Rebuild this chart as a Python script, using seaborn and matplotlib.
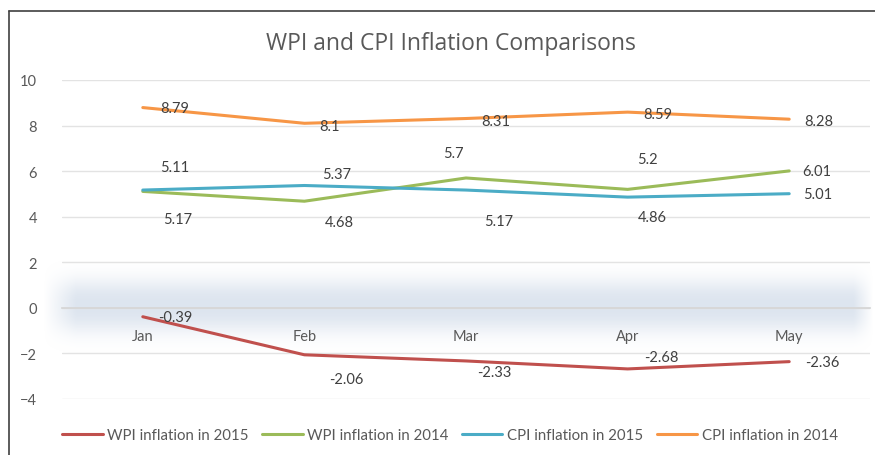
import numpy as np
import pandas as pd
import matplotlib.pyplot as plt
from matplotlib.lines import Line2D
import seaborn as sns

# Data
months = ['Jan', 'Feb', 'Mar', 'Apr', 'May']
wpi_2015 = [-0.39, -2.06, -2.33, -2.68, -2.36]
wpi_2014 = [5.11, 4.68, 5.7, 5.2, 6.01]
cpi_2015 = [5.17, 5.37, 5.17, 4.86, 5.01]
cpi_2014 = [8.79, 8.1, 8.31, 8.59, 8.28]
series_names = ['WPI inflation in 2015', 'WPI inflation in 2014',
                'CPI inflation in 2015', 'CPI inflation in 2014']
colors = ['#c0504d', '#9bbb59', '#4bacc6', '#f79646']

# label offsets in pixels (dx, dy) relative to each point, to mimic the original placement
label_offsets = [
    [(32, 0), (42, -24), (28, -11), (34, 12), (33, 0)],
    [(32, 24), (35, -21), (-13, 25), (20, 30), (28, 0)],
    [(35, -29), (32, 11), (33, -31), (25, -20), (28, 0)],
    [(32, 0), (25, -3), (30, -2), (30, -2), (30, -2)],
]

all_values = [wpi_2015, wpi_2014, cpi_2015, cpi_2014]
df = pd.DataFrame({
    'month': months * 4,
    'value': wpi_2015 + wpi_2014 + cpi_2015 + cpi_2014,
    'series': np.repeat(series_names, len(months)),
})

sns.set_theme(style='white')
plt.rcParams['font.family'] = ['Lato', 'DejaVu Sans']

fig = plt.figure(figsize=(8.75, 4.56), dpi=100)
ax = fig.add_axes([62 / 875, 1 - 400 / 456, 808 / 875, 319 / 456])

# soft bluish glow band around the zero line
gy = np.linspace(-2.0, 2.0, 160)[:, None]
gx = np.linspace(-0.62, 4.52, 500)[None, :]
fade_x = np.clip((gx + 0.62) / 0.2, 0, 1) * np.clip((4.52 - gx) / 0.12, 0, 1)
glow = np.zeros((160, 500, 4))
glow[..., :3] = np.array([0.70, 0.77, 0.86])
glow[..., 3] = 0.44 * np.exp(-np.abs((gy + 0.05) / 1.15) ** 2.6) * fade_x
ax.imshow(glow, extent=(-0.62, 4.52, -2.0, 2.0), aspect='auto', zorder=0,
          interpolation='bilinear', clip_on=False)

sns.lineplot(data=df, x='month', y='value', hue='series', palette=colors,
             sort=False, linewidth=2.2, ax=ax, legend=False, zorder=3)

# data labels
for vals, offs in zip(all_values, label_offsets):
    for i, (v, (dx, dy)) in enumerate(zip(vals, offs)):
        ax.annotate(f'{v:g}', (i, v), xytext=(dx, dy), textcoords='offset pixels',
                    ha='center', va='center', fontsize=10.5, color='#404040', zorder=4)

ax.set_xlim(-0.5, 4.5)
ax.set_ylim(-4, 10)
ax.set_yticks(np.arange(-4, 11, 2))
ax.yaxis.grid(True, color='#e3e3e3', linewidth=1)
ax.set_axisbelow(True)
for s in ['top', 'right', 'left']:
    ax.spines[s].set_visible(False)
ax.spines['bottom'].set_position(('data', 0))
ax.spines['bottom'].set_color('#d6d6d6')
ax.spines['bottom'].set_zorder(1)
ax.tick_params(axis='x', length=0, pad=15, labelsize=10.5, labelcolor='#595959')
ax.tick_params(axis='y', length=0, pad=18, labelsize=10.5, labelcolor='#595959')
ax.set_xlabel('')
ax.set_ylabel('')

fig.text(0.515, 1 - 44 / 456, 'WPI and CPI Inflation Comparisons', ha='center', va='center',
         fontsize=16.5, color='#595959', family=['Open Sans', 'DejaVu Sans'])

handles = [Line2D([0], [0], color=c, lw=2.2) for c in colors]
fig.legend(handles, series_names, loc='center', bbox_to_anchor=(0.514, 1 - 436 / 456),
           ncol=4, frameon=False, fontsize=10.8, handlelength=2.7, columnspacing=0.9,
           handletextpad=0.3, labelcolor='#595959')

# outer frame (top and left edge)
fig.add_artist(Line2D([9 / 875, 9 / 875], [0, 1 - 12 / 456], color='#404040', lw=1.2))
fig.add_artist(Line2D([9 / 875, 1], [1 - 12 / 456, 1 - 12 / 456], color='#404040', lw=1.2))

fig.savefig('out.png', dpi=100)
